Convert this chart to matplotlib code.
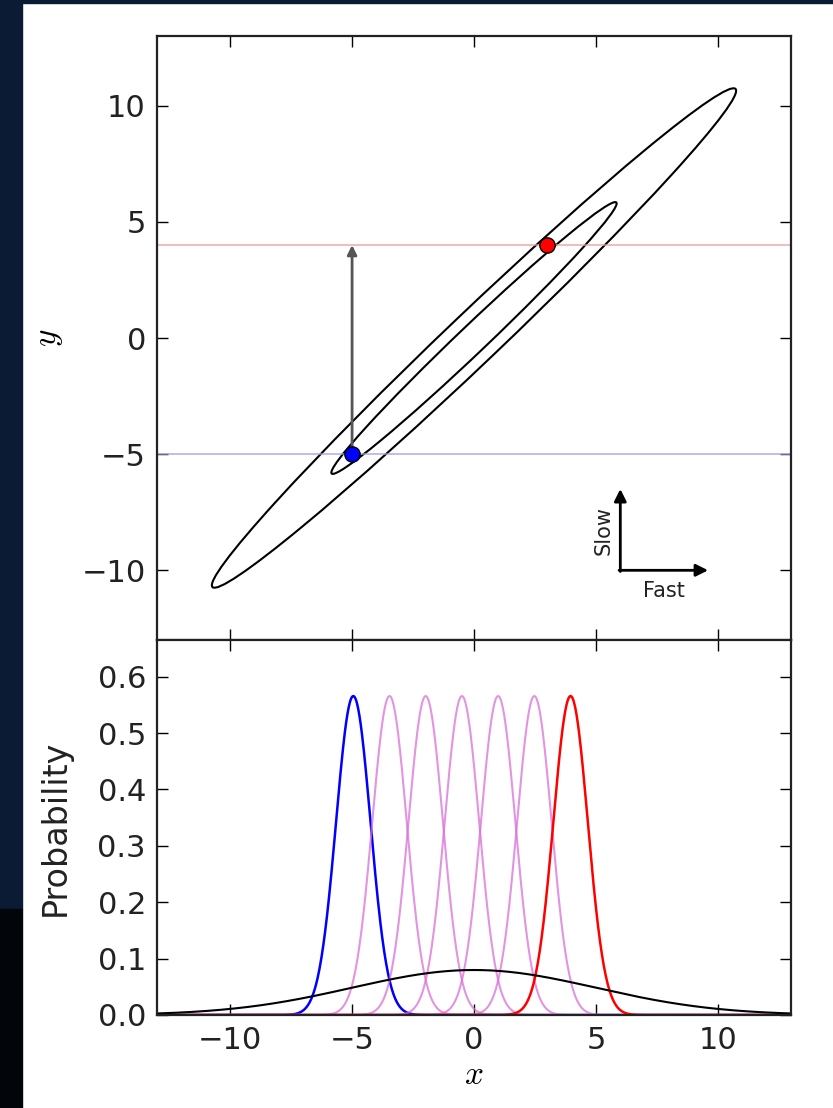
import numpy as np
import matplotlib
matplotlib.use("Agg")
import matplotlib.pyplot as plt
from matplotlib.patches import Ellipse, Rectangle

plt.rcParams['mathtext.fontset'] = 'cm'
plt.rcParams['font.family'] = ['DejaVu Sans']

# model
sigma = 5.0
rho = 0.99
contour_radii = [1.17, 2.15]          # ellipse sizes (in std units)
y_levels = [-5, -3.5, -2, -0.5, 1, 2.5, 4]
start_pt = (-5, -5)                   # blue point
end_pt = (3, 4)                       # red point
x_ticks = [-10, -5, 0, 5, 10]
y_ticks_top = [-10, -5, 0, 5, 10]
y_ticks_bot = [0.0, 0.1, 0.2, 0.3, 0.4, 0.5, 0.6]

W, H = 833, 1108
fig = plt.figure(figsize=(W / 100, H / 100), dpi=100)
fig.patch.set_facecolor('white')
# starry background strip on the left / top edge
fig.patches.append(Rectangle((0, 0.18), 22 / W, 0.82, transform=fig.transFigure,
                             color='#0b1b33', zorder=-1))
fig.patches.append(Rectangle((0, 0), 22 / W, 0.18, transform=fig.transFigure,
                             color='#02050a', zorder=-1))
fig.patches.append(Rectangle((0, 1 - 3 / H), 1, 3 / H, transform=fig.transFigure,
                             color='#0b1b33', zorder=-1))

left, right = 157 / W, 791 / W
top1, mid, bot = 1 - 36 / H, 1 - 640 / H, 1 - 1015 / H
ax1 = fig.add_axes([left, mid, right - left, top1 - mid])
ax2 = fig.add_axes([left, bot, right - left, mid - bot], sharex=ax1)

for ax in (ax1, ax2):
    ax.tick_params(direction='in', top=True, right=True, length=8, width=1,
                   labelsize=22, labelcolor='#222222', pad=8)
    for s in ax.spines.values():
        s.set_linewidth(1.6)
        s.set_color('#222222')

# top panel: contours of the 2D gaussian
lam1 = sigma ** 2 * (1 + rho)
lam2 = sigma ** 2 * (1 - rho)
for r in contour_radii:
    ax1.add_patch(Ellipse((0, 0), 2 * r * np.sqrt(lam1), 2 * r * np.sqrt(lam2),
                          angle=45, fill=False, ec='black', lw=1.5))

ax1.axhline(end_pt[1], color='#e8a0a0', lw=1.2, alpha=0.8)
ax1.axhline(start_pt[1], color='#a0a0e8', lw=1.2, alpha=0.8)
ax1.annotate('', xy=(start_pt[0], end_pt[1]), xytext=start_pt,
             arrowprops=dict(arrowstyle='-|>', color='#555555', lw=2,
                             mutation_scale=14, shrinkA=0, shrinkB=0))
ax1.plot(*start_pt, 'o', color='blue', mec='black', ms=11, zorder=5)
ax1.plot(*end_pt, 'o', color='red', mec='black', ms=11, zorder=5)

# slow / fast directions
ax1.annotate('', xy=(6, -6.5), xytext=(6, -10.05),
             arrowprops=dict(arrowstyle='-|>', color='black', lw=2,
                             mutation_scale=18, shrinkA=0, shrinkB=0))
ax1.annotate('', xy=(9.6, -10), xytext=(5.95, -10),
             arrowprops=dict(arrowstyle='-|>', color='black', lw=2,
                             mutation_scale=18, shrinkA=0, shrinkB=0))
ax1.text(5.3, -8.3, 'Slow', rotation=90, ha='center', va='center',
         fontsize=15, color='#222222')
ax1.text(7.8, -10.9, 'Fast', ha='center', va='center', fontsize=15,
         color='#222222')

ax1.set_xlim(-13, 13)
ax1.set_ylim(-13, 13)
ax1.set_yticks(y_ticks_top)
ax1.set_ylabel('$y$', fontsize=24)
ax1.yaxis.set_label_coords(-0.145, 0.5)
ax1.tick_params(labelbottom=False)

# bottom panel: marginal and conditional distributions
x = np.linspace(-13, 13, 1000)
def gauss(x, mu, s):
    return np.exp(-0.5 * ((x - mu) / s) ** 2) / (s * np.sqrt(2 * np.pi))

sig_c = sigma * np.sqrt(1 - rho ** 2)
for i, yv in enumerate(y_levels):
    if i == 0:
        c, a, lw = 'blue', 1.0, 1.8
    elif i == len(y_levels) - 1:
        c, a, lw = 'red', 1.0, 1.8
    else:
        c, a, lw = 'orchid', 0.75, 1.5
    ax2.plot(x, gauss(x, rho * yv, sig_c), color=c, alpha=a, lw=lw)
ax2.plot(x, gauss(x, 0, sigma), color='black', lw=1.5)

ax2.set_ylim(0, 0.665)
ax2.set_yticks(y_ticks_bot)
ax2.set_xticks(x_ticks)
ax2.set_ylabel('Probability', fontsize=24, color='#222222')
ax2.yaxis.set_label_coords(-0.134, 0.5)
ax2.set_xlabel('$x$', fontsize=24, labelpad=2)

fig.savefig('out.png', dpi=100)
